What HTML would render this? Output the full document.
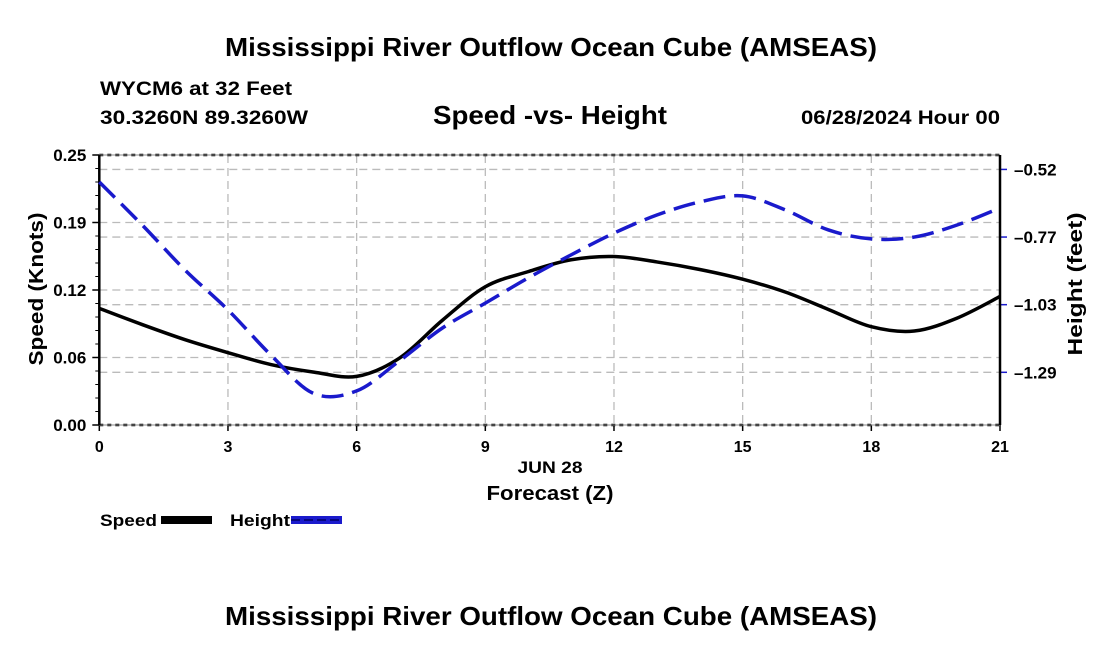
<!DOCTYPE html>
<html><head><meta charset="utf-8"><style>
body{margin:0;background:#fff;}
svg text{font-family:"Liberation Sans",sans-serif;font-weight:bold;}
</style></head><body>
<svg id="c" width="1100" height="650" xmlns="http://www.w3.org/2000/svg">
<text x="551" y="56" font-size="26" text-anchor="middle" textLength="652" lengthAdjust="spacingAndGlyphs">Mississippi River Outflow Ocean Cube (AMSEAS)</text>
<text x="100" y="95" font-size="19" textLength="192" lengthAdjust="spacingAndGlyphs">WYCM6 at 32 Feet</text>
<text x="100" y="124" font-size="19" textLength="208" lengthAdjust="spacingAndGlyphs">30.3260N  89.3260W</text>
<text x="550" y="124" font-size="26" text-anchor="middle" textLength="234" lengthAdjust="spacingAndGlyphs">Speed -vs- Height</text>
<text x="801" y="124" font-size="19" textLength="199" lengthAdjust="spacingAndGlyphs">06/28/2024 Hour 00</text>
<g id="grid"></g>
<g id="axes"></g>
<g id="series"></g>
<text x="550" y="473" font-size="17" text-anchor="middle" textLength="65" lengthAdjust="spacingAndGlyphs">JUN 28</text>
<text x="550" y="500" font-size="20" text-anchor="middle" textLength="127" lengthAdjust="spacingAndGlyphs">Forecast (Z)</text>
<text transform="translate(43,289) rotate(-90)" font-size="20" text-anchor="middle" textLength="153" lengthAdjust="spacingAndGlyphs">Speed (Knots)</text>
<text transform="translate(1082,284) rotate(-90)" font-size="20" text-anchor="middle" textLength="143" lengthAdjust="spacingAndGlyphs">Height (feet)</text>
<g>
<text x="100" y="526" font-size="17" textLength="57" lengthAdjust="spacingAndGlyphs">Speed</text>
<rect x="161" y="516" width="51" height="8" fill="#000"/>
<text x="230" y="526" font-size="17" textLength="60" lengthAdjust="spacingAndGlyphs">Height</text>
<rect x="291" y="516" width="51" height="8" fill="#1a1acc"/>
<line x1="291" y1="520" x2="342" y2="520" stroke="#000066" stroke-width="1.5" stroke-dasharray="9,4"/>
</g>
<text x="551" y="625" font-size="26" text-anchor="middle" textLength="652" lengthAdjust="spacingAndGlyphs">Mississippi River Outflow Ocean Cube (AMSEAS)</text>
</svg>
<script>
const hours=[0,1,2,3,4,5,6,7,8,9,10,11,12,13,14,15,16,17,18,19,20,21];
const speed=[0.108,0.093,0.079,0.067,0.056,0.049,0.045,0.062,0.097,0.128,0.142,0.153,0.156,0.151,0.144,0.135,0.123,0.107,0.091,0.087,0.099,0.119];
const height=[-0.568,-0.732,-0.904,-1.056,-1.228,-1.375,-1.365,-1.250,-1.125,-1.030,-0.934,-0.846,-0.763,-0.694,-0.644,-0.621,-0.675,-0.751,-0.785,-0.778,-0.732,-0.667];
const xTicks=[0,3,6,9,12,15,18,21];
const leftTicks=[0,0.0625,0.125,0.1875,0.25];
const leftLabels=["0.00","0.06","0.12","0.19","0.25"];
const rightTicks=[-0.52,-0.778,-1.036,-1.294];
const rightLabels=["-0.52","-0.77","-1.03","-1.29"];
const X0=99.3,X1=1000,Y0=425,Y1=155;
const sx=h=>X0+(h-0)/(21-0)*(X1-X0);
const sy=v=>Y0-(v-0)/(0.25-0)*(Y0-Y1);
const hMin=-1.495,hMax=-0.465;
const sh=v=>Y0-(v-hMin)/(hMax-hMin)*(Y0-Y1);
const NS='http://www.w3.org/2000/svg';
function mk(t,a,p){const e=document.createElementNS(NS,t);for(const k in a)e.setAttribute(k,a[k]);p.appendChild(e);return e;}
const grid=document.getElementById('grid'),axes=document.getElementById('axes'),series=document.getElementById('series');
xTicks.forEach((h,i)=>{
 if(h>0&&h<21){const l=mk('line',{x1:sx(h),x2:sx(h),y1:Y1,y2:Y0,stroke:'#bbb','stroke-width':1.3,'stroke-dasharray':'8,5'},grid);
 }
 const t=mk('text',{x:sx(h),y:Y0+27,'font-size':16,'text-anchor':'middle'},axes);t.textContent=h;
 
 const tk=mk('line',{x1:sx(h),x2:sx(h),y1:Y0,y2:Y0+6,stroke:'#000','stroke-width':1.5},axes);
 
});
leftTicks.forEach((v,i)=>{
 if(i>0&&i<4){const l=mk('line',{x1:X0,x2:X1,y1:sy(v),y2:sy(v),stroke:'#bbb','stroke-width':1.3,'stroke-dasharray':'8,5'},grid);
 }
 const t=mk('text',{x:X0-13,y:sy(v)+6,'font-size':17,'text-anchor':'end'},axes);t.textContent=leftLabels[i];
 
 const tk=mk('line',{x1:X0-7,x2:X0,y1:sy(v),y2:sy(v),stroke:'#000','stroke-width':1.5},axes);
 
});
for(let i=1;i<20;i++){const v=i*0.25/20;const y=sy(v);
 const tk=mk('line',{x1:X0-4,x2:X0,y1:y,y2:y,stroke:'#000','stroke-width':1},axes);
 }
rightTicks.forEach((v,i)=>{
 const l=mk('line',{x1:X0,x2:X1,y1:sh(v),y2:sh(v),stroke:'#bbb','stroke-width':1.3,'stroke-dasharray':'8,5'},grid);
 
 const t=mk('text',{x:X1+14,y:sh(v)+6,'font-size':17},axes);t.textContent=rightLabels[i].replace('-','\u2013');
 
 const tk=mk('line',{x1:X1,x2:X1+7,y1:sh(v),y2:sh(v),stroke:'#1a1acc','stroke-width':1.5},axes);
 
});
[Y1,Y0].forEach(y=>{const l=mk('line',{x1:X0,x2:X1,y1:y,y2:y,stroke:'#000','stroke-width':2.5,'stroke-dasharray':'4,4'},axes);
 
 const l2=mk('line',{x1:X0,x2:X1,y1:y,y2:y,stroke:'#888','stroke-width':1},axes);
 });
[X0,X1].forEach(x=>{const l=mk('line',{x1:x,x2:x,y1:Y1,y2:Y0,stroke:'#000','stroke-width':2.5},axes);
 });
function smooth(pts){let d='M'+pts[0][0]+','+pts[0][1];
 for(let i=0;i<pts.length-1;i++){const p0=pts[Math.max(0,i-1)],p1=pts[i],p2=pts[i+1],p3=pts[Math.min(pts.length-1,i+2)];
 const c1x=p1[0]+(p2[0]-p0[0])/6,c1y=p1[1]+(p2[1]-p0[1])/6,c2x=p2[0]-(p3[0]-p1[0])/6,c2y=p2[1]-(p3[1]-p1[1])/6;
 d+=' C'+c1x+','+c1y+' '+c2x+','+c2y+' '+p2[0]+','+p2[1];}return d;}
const sp=mk('path',{d:smooth(hours.map((h,i)=>[sx(h),sy(speed[i])])),fill:'none',stroke:'#000','stroke-width':3.5},series);

const hp=mk('path',{d:smooth(hours.map((h,i)=>[sx(h),sh(height[i])])),fill:'none',stroke:'#1a1acc','stroke-width':3.5,'stroke-dasharray':'22,9'},series);

</script>
</body></html>
